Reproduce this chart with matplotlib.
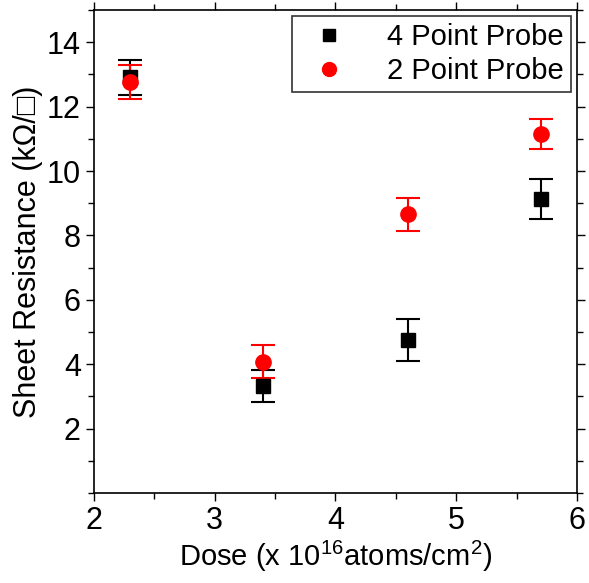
import numpy as np
import matplotlib
matplotlib.use('Agg')
import matplotlib.pyplot as plt
from matplotlib.ticker import MultipleLocator
from matplotlib.lines import Line2D

plt.rcParams['font.family'] = ['Liberation Sans', 'DejaVu Sans']
plt.rcParams['mathtext.fontset'] = 'custom'
plt.rcParams['mathtext.rm'] = 'Liberation Sans'

# --- Sheet resistance vs dose ---
dose = np.array([2.3, 3.4, 4.6, 5.7])  # x 10^16 atoms/cm^2
r_4pp = np.array([12.91, 3.32, 4.75, 9.14])  # kOhm/sq
r_4pp_err = np.array([0.55, 0.50, 0.64, 0.62])
r_2pp = np.array([12.76, 4.08, 8.66, 11.14])
r_2pp_err = np.array([0.52, 0.52, 0.51, 0.47])

fig = plt.figure(figsize=(5.89, 5.83), dpi=100)
ax = fig.add_axes([0.1596, 0.1544, 0.82, 0.8284])

ax.errorbar(dose, r_4pp, yerr=r_4pp_err, fmt='s', color='black', markersize=10,
            elinewidth=1.5, capsize=8.6, capthick=1.5)
ax.errorbar(dose, r_2pp, yerr=r_2pp_err, fmt='o', color='red', markersize=11,
            elinewidth=1.5, capsize=8.6, capthick=1.5)

ax.set_xlim(2, 6)
ax.set_ylim(0, 15)
ax.xaxis.set_major_locator(MultipleLocator(1))
ax.xaxis.set_minor_locator(MultipleLocator(0.5))
ax.yaxis.set_minor_locator(MultipleLocator(1))
ax.set_yticks([2, 4, 6, 8, 10, 12, 14])
ax.tick_params(which='both', direction='out', top=True, right=True, labelsize=22, width=1)
ax.tick_params(which='major', length=6)
ax.tick_params(which='minor', length=4)
for s in ax.spines.values():
    s.set_linewidth(1.2)

ax.set_xlabel('Dose (x 10$^{16}$atoms/cm$^2$)', fontsize=21, labelpad=2)
ax.set_ylabel('Sheet Resistance (k\u03a9/\u25a1)', fontsize=22, labelpad=3)

handles = [Line2D([], [], linestyle='none', marker='s', color='black', markersize=9),
           Line2D([], [], linestyle='none', marker='o', color='red', markersize=10)]
leg = ax.legend(handles, ['4 Point Probe', '2 Point Probe'], loc='upper right',
                fontsize=21, frameon=True, fancybox=False, edgecolor='black',
                handletextpad=1.0, borderaxespad=0.2, handlelength=2.0,
                borderpad=0.25, labelspacing=0.2)
leg.get_frame().set_linewidth(1.2)

plt.savefig('out.png', dpi=100)
